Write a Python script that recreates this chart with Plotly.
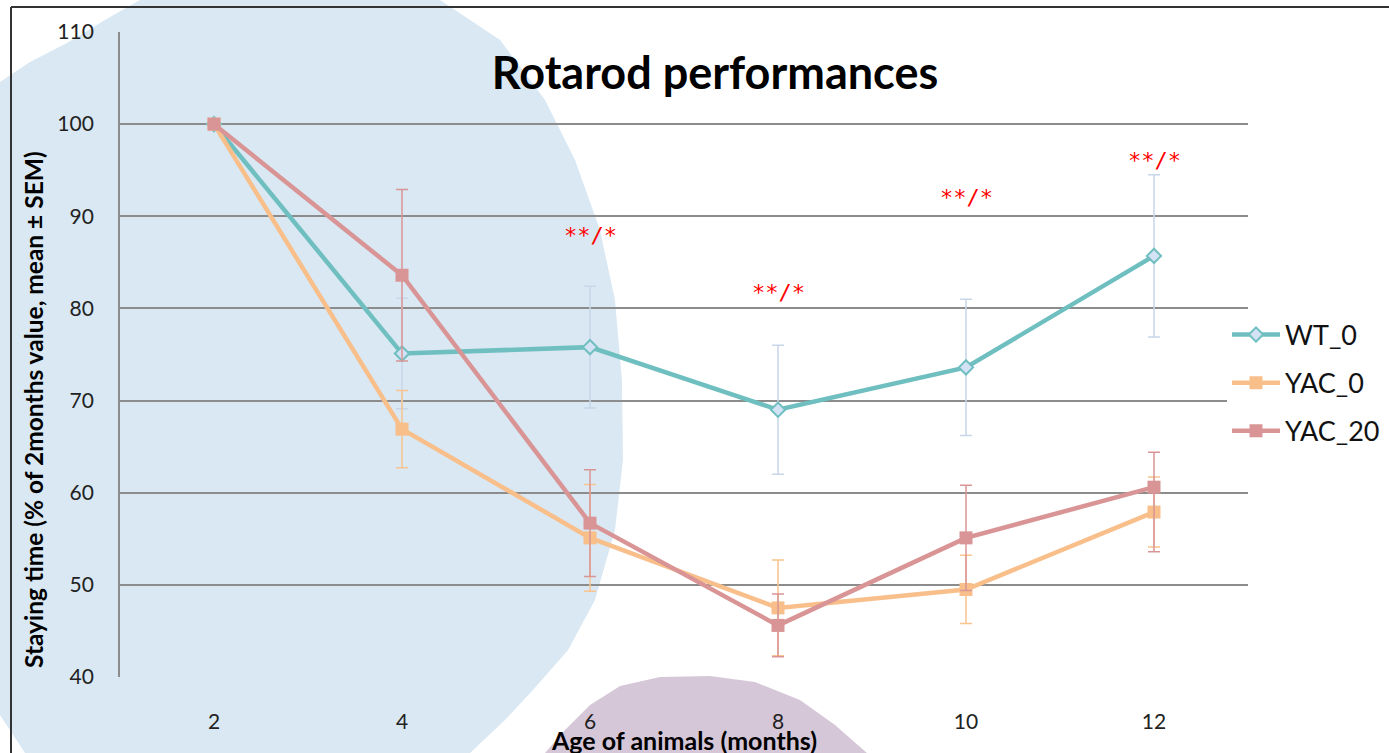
import plotly.graph_objects as go

# ---------------- data ----------------
months = ["2", "4", "6", "8", "10", "12"]

wt_0 = [100, 75.1, 75.8, 69.0, 73.6, 85.7]
wt_0_sem = [0, 6.0, 6.6, 7.0, 7.4, 8.8]

yac_0 = [100, 66.9, 55.1, 47.5, 49.5, 57.9]
yac_0_sem = [0, 4.2, 5.8, 5.2, 3.7, 3.8]

yac_20 = [100, 83.6, 56.7, 45.6, 55.1, 60.6]
yac_20_sem_plus = [0, 9.3, 5.8, 3.4, 5.7, 3.8]
yac_20_sem_minus = [0, 9.3, 5.8, 3.4, 5.7, 7.0]

sig_months = ["6", "8", "10", "12"]
sig_levels = [87.9, 81.7, 92.0, 96.1]
sig_label = "**/*"

y_ticks = [40, 50, 60, 70, 80, 90, 100, 110]

# ---------------- geometry helpers (decoration only) ----------------
W, H = 1389, 753
L, R, T, B = 120, 1248, 32, 677


def px(xp):
    return (xp - L) / (R - L)


def py(yp):
    return (B - yp) / (B - T)


def blob_path(points):
    pts = [(px(a), py(b)) for a, b in points]
    d = "M {:.4f},{:.4f}".format(*pts[0])
    for a, b in pts[1:]:
        d += " L {:.4f},{:.4f}".format(a, b)
    return d + " Z"


blue_outline = [
    (0, 82), (30, 62), (67, 43), (105, 20), (140, 0), (440, 0), (500, 40),
    (545, 100), (575, 160), (600, 230), (615, 300), (622, 380), (623, 460),
    (615, 530), (595, 600), (568, 650), (533, 690), (505, 720), (470, 753),
    (25, 753), (0, 715),
]
purple_outline = [
    (545, 753), (565, 730), (590, 705), (620, 686), (660, 677), (710, 676),
    (755, 682), (800, 700), (835, 725), (867, 753),
]

font_main = "Lato, 'Open Sans', sans-serif"

fig = go.Figure()

series = [
    ("WT_0", wt_0, wt_0_sem, wt_0_sem, "#6fbfc0", "#c8d6ea", "diamond", 11, "#d3e2f4"),
    ("YAC_0", yac_0, yac_0_sem, yac_0_sem, "#f9bf8b", "#f9c48f", "square", 13, "#f9bf8b"),
    ("YAC_20", yac_20, yac_20_sem_plus, yac_20_sem_minus, "#d99595", "#d99595", "square", 13, "#d99595"),
]

for name, vals, sem_p, sem_m, col, ecol, sym, msize, mfill in series:
    fig.add_trace(go.Scatter(
        x=months, y=vals, name=name, mode="lines+markers",
        legendgroup=name,
        line=dict(color=col, width=4.5),
        marker=dict(symbol=sym, size=msize, color=mfill,
                    line=dict(color=col, width=2 if sym == "diamond" else 0)),
        error_y=dict(type="data", array=sem_p, arrayminus=sem_m, visible=True,
                     color=ecol, thickness=1.5, width=6),
    ))

annotations = []
for m, lv in zip(sig_months, sig_levels):
    annotations.append(dict(x=months.index(m), y=lv, xref="x", yref="y", text=sig_label,
                            showarrow=False,
                            font=dict(family="DejaVu Sans Mono", size=22, color="#ff0000")))

annotations += [
    dict(text="<b>Age of animals (months)</b>", xref="paper", yref="paper",
         x=px(684), y=py(740), showarrow=False, xanchor="center", yanchor="middle",
         font=dict(family=font_main, size=25, color="#000000")),
    dict(text="<b>Staying time (% of 2months value, mean ± SEM)</b>", xref="paper",
         yref="paper", x=px(33), y=py(410), showarrow=False, textangle=-90,
         xanchor="center", yanchor="middle",
         font=dict(family=font_main, size=24.5, color="#000000")),
]

shapes = [
    dict(type="path", xref="paper", yref="paper", path=blob_path(blue_outline),
         fillcolor="#d9e8f3", line=dict(width=0), layer="below"),
    dict(type="path", xref="paper", yref="paper", path=blob_path(purple_outline),
         fillcolor="#d5c7d8", line=dict(width=0), layer="below"),
    dict(type="line", xref="paper", yref="paper", x0=px(11), x1=px(W), y0=py(7), y1=py(7),
         line=dict(color="#333333", width=2)),
    dict(type="line", xref="paper", yref="paper", x0=px(11), x1=px(11), y0=py(7), y1=py(H),
         line=dict(color="#333333", width=2)),
]

fig.update_layout(
    width=W, height=H,
    margin=dict(l=L, r=W - R, t=T, b=H - B, autoexpand=False),
    paper_bgcolor="white",
    plot_bgcolor="rgba(0,0,0,0)",
    shapes=shapes,
    annotations=annotations,
    title=dict(text="<b>Rotarod performances</b>", x=715 / W, xref="container", xanchor="center",
               y=1 - 73 / H, yref="container", yanchor="middle",
               font=dict(family=font_main, size=45, color="#000000")),
    font=dict(family=font_main, size=21, color="#222222"),
    showlegend=True,
    legend=dict(x=1227 / W, y=1 - 383 / H, xref="container", yref="container",
                xanchor="left", yanchor="middle",
                bgcolor="white", borderwidth=0, tracegroupgap=10,
                itemwidth=48,
                font=dict(family=font_main, size=27, color="#111111")),
    xaxis=dict(type="category", showgrid=False, zeroline=False, showline=False,
               ticks="", tickfont=dict(size=21, color="#222222"),
               ticklabelstandoff=30, range=[-0.5, 5.5], automargin=False),
    yaxis=dict(range=[40, 110], tickvals=y_ticks, showgrid=True, gridcolor="#8c8c8c",
               gridwidth=1.8, zeroline=False, showline=True, linecolor="#8c8c8c",
               linewidth=1.8, ticks="", tickfont=dict(size=21, color="#222222"),
               ticklabelstandoff=20, automargin=False),
)

fig.write_html("out.html", post_script="document.body.style.margin='0';",
               config={"displayModeBar": False})
